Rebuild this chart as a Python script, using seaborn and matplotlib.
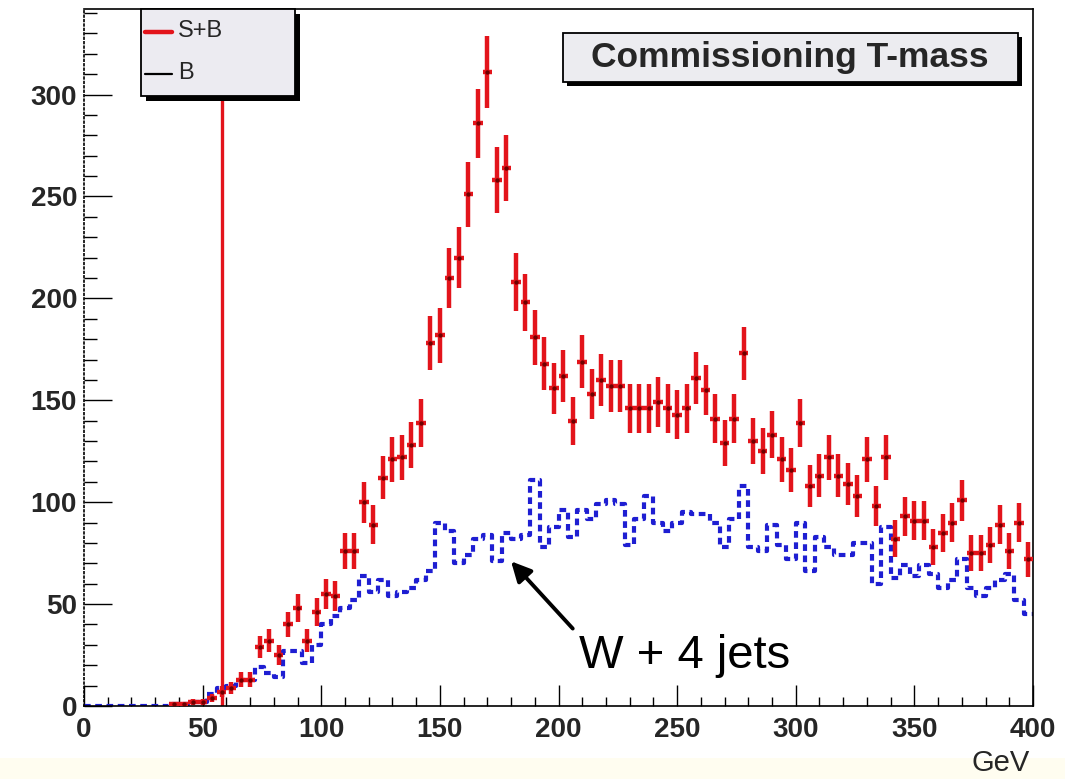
import numpy as np
import pandas as pd
import matplotlib
matplotlib.use("Agg")
import matplotlib.pyplot as plt
import seaborn as sns
from matplotlib.patches import Rectangle
from matplotlib.lines import Line2D
from matplotlib.ticker import MultipleLocator

# ---- binning: 100 bins of 4 GeV between 0 and 400 GeV ----
bin_width = 4.0
bin_edges = np.arange(0, 404, 4)
bin_centers = 0.5 * (bin_edges[:-1] + bin_edges[1:])

# ---- S+B: reconstructed top mass, signal plus background (events / bin) ----
sb_counts = [
    0, 0, 0, 0, 0, 0, 0, 0, 0,                      # 2 .. 34
    1, 1, 2, 2,                                     # 38 .. 50
    4, 7, 9, 13, 13, 29, 32, 25, 40, 48,            # 54 .. 90
    32, 46, 55, 54, 76, 76, 100, 89, 112, 121,      # 94 .. 130
    122, 128, 139, 178, 182, 210, 220, 251, 286, 311,  # 134 .. 170
    258, 264, 208, 198, 181, 168, 156, 162, 140, 169,  # 174 .. 210
    153, 160, 157, 157, 146, 146, 146, 149, 146, 143,  # 214 .. 250
    146, 161, 155, 141, 129, 141, 173, 130, 125, 133,  # 254 .. 290
    121, 116, 139, 108, 113, 122, 113, 109, 103, 121,  # 294 .. 330
    98, 122, 82, 93, 91, 91, 78, 85, 90, 101,       # 334 .. 370
    75, 75, 79, 89, 76, 90, 72,                     # 374 .. 398
]

# ---- B: W + 4 jets background only (events / bin) ----
b_counts = [
    0, 0, 0, 0, 0, 0, 0, 0, 0,                      # 2 .. 34
    1, 1, 2, 2,                                     # 38 .. 50
    6, 9, 10, 13, 13, 19, 16, 14, 27, 27,           # 54 .. 90
    21, 30, 40, 44, 48, 52, 64, 56, 62, 54,         # 94 .. 130
    56, 58, 62, 66, 90, 86, 70, 74, 82, 84,         # 134 .. 170
    71, 85, 82, 84, 111, 78, 88, 96, 83, 96,        # 174 .. 210
    92, 99, 101, 99, 79, 92, 103, 90, 86, 90,       # 214 .. 250
    95, 94, 94, 90, 78, 92, 108, 78, 76, 89,        # 254 .. 290
    79, 72, 90, 66, 83, 78, 74, 74, 80, 80,         # 294 .. 330
    60, 88, 63, 69, 64, 69, 65, 58, 62, 72,         # 334 .. 370
    58, 54, 58, 62, 65, 52, 45,                     # 374 .. 398
]

mass_cut = 58.0
x_ticks = [0, 50, 100, 150, 200, 250, 300, 350, 400]
y_ticks = [0, 50, 100, 150, 200, 250, 300]
x_tick_labels = [str(t) for t in x_ticks]
y_tick_labels = [str(t) for t in y_ticks]

title_text = "Commissioning T-mass"
legend_labels = ["S+B", "B"]
x_unit = "GeV"
note_text = "W + 4 jets"

RED = "#e3141b"
DARK_RED = "#6e0000"
BLUE = "#1e1ed2"

sns.set_theme(style="ticks")
plt.rcParams["font.family"] = ["Liberation Sans", "DejaVu Sans"]

W, H = 1065, 779
fig = plt.figure(figsize=(W / 100, H / 100), dpi=100)
fig.patch.set_facecolor("white")
ax = fig.add_axes([84 / W, 1 - 706 / H, (1033 - 84) / W, (706 - 9) / H])
ax.set_facecolor("white")

df = pd.DataFrame({"mass": bin_centers, "sb": sb_counts, "b": b_counts})

# background histogram as a dashed blue outline
sns.histplot(data=df, x="mass", weights="b", binwidth=bin_width,
             binrange=(0, 400), element="step", fill=False, color=BLUE,
             linewidth=3.0, linestyle=(0, (1.6, 1.1)), ax=ax, zorder=2)

# vertical marker at the mass cut
ax.axvline(mass_cut, color=RED, lw=2.4, zorder=1)

# S+B data points with Poisson errors
pts = df[df["sb"] > 0]
ax.errorbar(pts["mass"], pts["sb"], yerr=np.sqrt(pts["sb"]), xerr=bin_width / 2,
            fmt="none", ecolor=RED, elinewidth=3.2, capsize=0, zorder=3)
sns.scatterplot(data=pts, x="mass", y="sb", marker="o", s=10,
                color=DARK_RED, edgecolor=None, linewidth=0, ax=ax, zorder=4)

ax.set_xlim(0, 400)
ax.set_ylim(0, 342)
ax.set_xlabel("")
ax.set_ylabel("")

ax.set_xticks(x_ticks, x_tick_labels, fontsize=20, fontweight="bold")
ax.set_yticks(y_ticks, y_tick_labels, fontsize=20, fontweight="bold")
ax.xaxis.set_minor_locator(MultipleLocator(10))
ax.yaxis.set_minor_locator(MultipleLocator(10))
ax.tick_params(axis="x", which="major", direction="in", length=15, width=1.0,
               color="black", pad=8)
ax.tick_params(axis="x", which="minor", direction="in", length=6.5, width=1.0,
               color="black")
ax.tick_params(axis="y", which="major", direction="in", length=20, width=1.0,
               color="black", pad=5)
ax.tick_params(axis="y", which="minor", direction="in", length=9, width=1.0,
               color="black")

for side in ["top", "right", "bottom", "left"]:
    ax.spines[side].set_visible(True)
    ax.spines[side].set_color("black")
    ax.spines[side].set_linewidth(1.2)
ax.spines["left"].set_linestyle(":")

# annotation of the background component
ax.annotate("", xy=(180, 71), xytext=(206, 38),
            arrowprops=dict(arrowstyle="-|>,head_length=0.6,head_width=0.3",
                            color="black", lw=2.8, mutation_scale=20,
                            shrinkA=0, shrinkB=0), zorder=6)
ax.text(208.5, 18.7, note_text, fontsize=34, ha="left", va="baseline",
        color="black", zorder=6)

# axis unit label
fig.text(1030 / W, 1 - 763 / H, x_unit, ha="right", va="center", fontsize=21)

# faint tint at the bottom of the canvas
fig.patches.append(Rectangle((0, 0), 1, 21 / H, transform=fig.transFigure,
                             fc="#fffdf0", ec="none", zorder=-5))


def framed_box(x0, y0, x1, y1, fc, shadow=5):
    """Box with a black drop shadow, given in pixel coordinates from top-left."""
    fig.patches.append(Rectangle(((x0 + shadow) / W, 1 - (y1 + shadow) / H),
                                 (x1 - x0) / W, (y1 - y0) / H,
                                 transform=fig.transFigure, fc="black",
                                 ec="none", zorder=5))
    fig.patches.append(Rectangle((x0 / W, 1 - y1 / H), (x1 - x0) / W,
                                 (y1 - y0) / H, transform=fig.transFigure,
                                 fc=fc, ec="black", lw=1.3, zorder=6))


# legend
framed_box(141, 9, 295, 96, "#ecebf1", shadow=5)
fig.lines.append(Line2D([145 / W, 172 / W], [1 - 32 / H, 1 - 32 / H],
                        transform=fig.transFigure, color=RED, lw=3.2, zorder=7))
fig.lines.append(Line2D([145 / W, 172 / W], [1 - 74 / H, 1 - 74 / H],
                        transform=fig.transFigure, color="black", lw=1.6, zorder=7))
fig.text(178 / W, 1 - 31 / H, legend_labels[0], ha="left", va="center",
         fontsize=17, zorder=8)
fig.text(178 / W, 1 - 73 / H, legend_labels[1], ha="left", va="center",
         fontsize=17, zorder=8)

# title box
framed_box(563, 33, 1018, 82, "#ececf0", shadow=4)
fig.text(790 / W, 1 - 58 / H, title_text, ha="center", va="center",
         fontsize=25.5, fontweight="bold", zorder=8)

fig.savefig("out.png", dpi=100, facecolor="white")
